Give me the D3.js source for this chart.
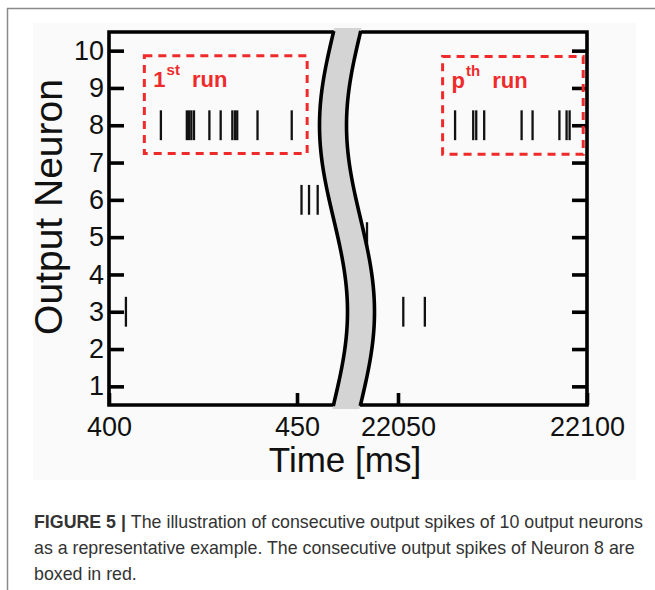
<!DOCTYPE html>
<html>
<head>
<meta charset="utf-8">
<script src="https://cdn.jsdelivr.net/npm/d3@7"></script>
<style>
  html, body { margin: 0; padding: 0; background: #ffffff; }
  svg { display: block; }
</style>
</head>
<body>
<svg id="chart" width="655" height="590"></svg>
<script>
// ---------------- data ----------------
const neuronTicks = [1, 2, 3, 4, 5, 6, 7, 8, 9, 10];
const earlyTicks = [400, 450];
const lateTicks = [22050, 22100];
const earlyDomain = [400, 450];
const lateDomain = [22050, 22100];

// spike times (ms) per neuron, early window (1st run) and late window (p-th run)
const neuron8Early = [413.8, 420.7, 421.3, 421.9, 422.6, 426.7, 429.7, 432.8, 433.5, 434.1, 439.5, 448.6];
const neuron6Early = [451.2, 453.2, 455.5];
const neuron3Early = [404.5];
const neuron5Late = [22041.8];
const neuron3Late = [22051.4, 22057.1];
const neuron8Late = [22065.1, 22069.9, 22070.7, 22072.8, 22082.7, 22085.6, 22092.7, 22094.6, 22095.4];

// annotation boxes in data coordinates: [t0, t1, nLow, nHigh]
const run1Box = [409.4, 452.7, 7.24, 9.86];
const runPBox = [22061.8, 22099.0, 7.22, 9.84];
const run1Label = ["1", "st", "run"];
const runPLabel = ["p", "th", "run"];

const xTitle = "Time [ms]";
const yTitle = "Output Neuron";
const captionBold = "FIGURE 5 | ";
const captionLines = [
  "The illustration of consecutive output spikes of 10 output neurons",
  "as a representative example. The consecutive output spikes of Neuron 8 are",
  "boxed in red."
];

// ---------------- layout ----------------
const svg = d3.select("#chart");
const FONT = "'Liberation Sans', Arial, Helvetica, sans-serif";
const pL = 109, pR = 587, pT = 32, pB = 405;

const xE = d3.scaleLinear().domain(earlyDomain).range([109, 297]);
const xL = d3.scaleLinear().domain(lateDomain).range([398, 587]);
const y = d3.scaleLinear().domain([0.5, 10.5]).range([pB, pT]);

// page frame (article box)
svg.append("line").attr("x1", 7.5).attr("y1", 8).attr("x2", 7.5).attr("y2", 590)
  .attr("stroke", "#8a8a8a").attr("stroke-width", 1.5);
svg.append("line").attr("x1", 7).attr("y1", 8.5).attr("x2", 655).attr("y2", 8.5)
  .attr("stroke", "#8a8a8a").attr("stroke-width", 1.5);

// figure image background
svg.append("rect").attr("x", 33).attr("y", 23).attr("width", 603).attr("height", 457)
  .attr("fill", "#fafafa");

const g = svg.append("g");

// spikes
const spikes = [];
neuron8Early.forEach(t => spikes.push({t, n: 8, s: xE}));
neuron6Early.forEach(t => spikes.push({t, n: 6, s: xE}));
neuron3Early.forEach(t => spikes.push({t, n: 3, s: xE}));
neuron5Late.forEach(t => spikes.push({t, n: 5, s: xL}));
neuron3Late.forEach(t => spikes.push({t, n: 3, s: xL}));
neuron8Late.forEach(t => spikes.push({t, n: 8, s: xL}));

g.selectAll("line.spike").data(spikes).join("line")
  .attr("class", "spike")
  .attr("x1", d => d.s(d.t)).attr("x2", d => d.s(d.t))
  .attr("y1", d => y(d.n + 0.4)).attr("y2", d => y(d.n - 0.4))
  .attr("stroke", "#111").attr("stroke-width", 2.3);

// axes
const styleAxis = sel => {
  sel.selectAll(".domain").remove();
  sel.selectAll(".tick line").attr("stroke", "#000").attr("stroke-width", 3.6);
  sel.selectAll(".tick text").attr("fill", "#111").attr("font-family", FONT).attr("font-size", 27);
};

g.append("g").attr("transform", `translate(${pL},0)`)
  .call(d3.axisLeft(y).tickValues(neuronTicks).tickSizeInner(-15).tickSizeOuter(0).tickPadding(5))
  .call(styleAxis);
g.append("g").attr("transform", `translate(${pR},0)`)
  .call(d3.axisRight(y).tickValues(neuronTicks).tickSizeInner(-15).tickSizeOuter(0).tickFormat(""))
  .call(styleAxis);
g.append("g").attr("transform", `translate(0,${pB})`)
  .call(d3.axisBottom(xE).tickValues(earlyTicks).tickSizeInner(-12).tickSizeOuter(0).tickPadding(12).tickFormat(d3.format("d")))
  .call(styleAxis);
g.append("g").attr("transform", `translate(0,${pB})`)
  .call(d3.axisBottom(xL).tickValues(lateTicks).tickSizeInner(-12).tickSizeOuter(0).tickPadding(12).tickFormat(d3.format("d")))
  .call(styleAxis);

// frame
g.append("path")
  .attr("d", `M${pL},${pT}H${pR}V${pB}H${pL}Z`)
  .attr("fill", "none").attr("stroke", "#000").attr("stroke-width", 3.6);

// axis break band (S-shaped)
const bandW = 27;
const bx = yy => 333.5 - 14 * Math.sin(2 * Math.PI * (yy - pT) / (pB - pT));
const ys = d3.range(pT - 4, pB + 4.01, 3);
const leftEdge = ys.map(v => [bx(v), v]);
const rightEdge = ys.map(v => [bx(v) + bandW, v]);
const lineGen = d3.line().curve(d3.curveBasis);
g.append("path")
  .attr("d", lineGen(leftEdge) + "L" + lineGen(rightEdge.slice().reverse()).slice(1) + "Z")
  .attr("fill", "#d4d4d4").attr("stroke", "none");
[leftEdge, rightEdge].forEach(e => {
  g.append("path").attr("d", lineGen(e.filter(p => p[1] >= pT - 3 && p[1] <= pB + 3)))
    .attr("fill", "none").attr("stroke", "#000").attr("stroke-width", 3.6);
});

// red dashed boxes
const RED = "#ee2a2a";
[[run1Box, xE, run1Label], [runPBox, xL, runPLabel]].forEach(([b, sx, lab]) => {
  const x0 = sx(b[0]), x1 = sx(b[1]), y0 = y(b[3]), y1 = y(b[2]);
  g.append("rect").attr("x", x0).attr("y", y0).attr("width", x1 - x0).attr("height", y1 - y0)
    .attr("fill", "none").attr("stroke", RED).attr("stroke-width", 3)
    .attr("stroke-dasharray", "8,6");
  const t = g.append("text").attr("x", x0 + 9).attr("y", y0 + 31)
    .attr("font-family", FONT).attr("font-weight", "bold").attr("font-size", 22).attr("fill", RED);
  t.append("tspan").text(lab[0]);
  t.append("tspan").attr("font-size", 15).attr("dx", 1).attr("dy", -12).text(lab[1]);
  t.append("tspan").attr("dx", 12).attr("dy", 12).text(lab[2]);
});

// axis titles
svg.append("text").attr("x", 345).attr("y", 472).attr("text-anchor", "middle")
  .attr("font-family", FONT).attr("font-size", 35).attr("fill", "#111").text(xTitle);
svg.append("text").attr("transform", "translate(62,207) rotate(-90)").attr("text-anchor", "middle")
  .attr("font-family", FONT).attr("font-size", 39).attr("fill", "#111").text(yTitle);

// caption
const cap = svg.append("text").attr("font-family", FONT).attr("font-size", 17.8).attr("fill", "#333");
captionLines.forEach((ln, i) => {
  if (i === 0) {
    cap.append("tspan").attr("x", 34).attr("y", 528).attr("font-weight", "bold").text(captionBold);
    cap.append("tspan").text(ln);
  } else {
    cap.append("tspan").attr("x", 34).attr("y", 528 + i * 26).text(ln);
  }
});
</script>
</body>
</html>
